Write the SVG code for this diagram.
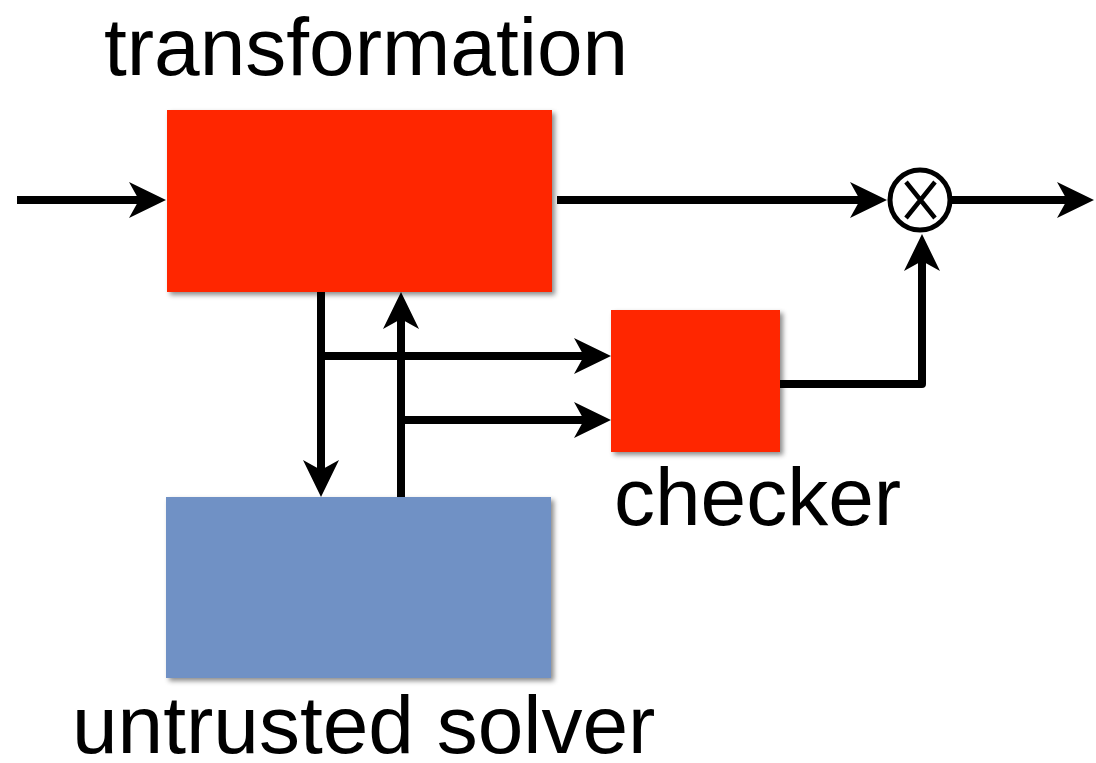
<svg xmlns="http://www.w3.org/2000/svg" width="1096" height="763" viewBox="0 0 1096 763">
  <defs>
    <filter id="shadow" x="-10%" y="-10%" width="120%" height="120%">
      <feDropShadow dx="3" dy="3" stdDeviation="2.5" flood-color="#000" flood-opacity="0.45"/>
    </filter>
    <!-- arrowhead; the wire stops 22px short of the tip so it never pokes past the point -->
    <marker id="arrow" viewBox="0 0 37 36" refX="15" refY="18" markerWidth="37" markerHeight="36" markerUnits="userSpaceOnUse" orient="auto" overflow="visible">
      <path d="M0,0 L37,18 L0,36 L10,18 Z" fill="#000"/>
    </marker>
  </defs>
  <style>
    .label { font-family: "Liberation Sans", Arial, sans-serif; font-size: 82px; fill: #000; }
    .red { fill: #ff2600; filter: url(#shadow); }
    .blue { fill: #7091c5; filter: url(#shadow); }
    .wire { fill: none; stroke: #000; stroke-width: 8; }
    .arrowed { marker-end: url(#arrow); }
  </style>
  <rect width="1096" height="763" fill="#fff"/>

  <g id="transformation">
    <rect class="red" x="167" y="110" width="385" height="182"/>
    <text class="label" x="104" y="75">transformation</text>
  </g>

  <g id="solver">
    <rect class="blue" x="166" y="497" width="385" height="181"/>
    <text class="label" x="72" y="753">untrusted solver</text>
  </g>

  <g id="checker">
    <rect class="red" x="611" y="310" width="169" height="142"/>
    <text class="label" x="614" y="525">checker</text>
  </g>

  <g id="multiplier">
    <circle cx="920" cy="200" r="30" fill="#fff" stroke="#000" stroke-width="5"/>
    <path d="M906,182 L935,218 M935,182 L906,218" stroke="#000" stroke-width="4.5" fill="none"/>
  </g>

  <g id="connectors">
    <!-- input into transformation -->
    <path class="wire arrowed" d="M17,200 L144,200"/>
    <!-- transformation to multiplier -->
    <path class="wire arrowed" d="M557,200 L865,200"/>
    <!-- multiplier output -->
    <path class="wire arrowed" d="M951,200 L1072,200"/>
    <!-- transformation down to solver -->
    <path class="wire arrowed" d="M321,292 L321,475"/>
    <!-- solver up to transformation -->
    <path class="wire arrowed" d="M401,497 L401,314"/>
    <!-- branches into checker -->
    <path class="wire arrowed" d="M321,356 L589,356"/>
    <path class="wire arrowed" d="M401,420 L589,420"/>
    <!-- checker to multiplier -->
    <path class="wire arrowed" d="M780,384 L922,384 L922,256" stroke-linejoin="round"/>
  </g>
</svg>
